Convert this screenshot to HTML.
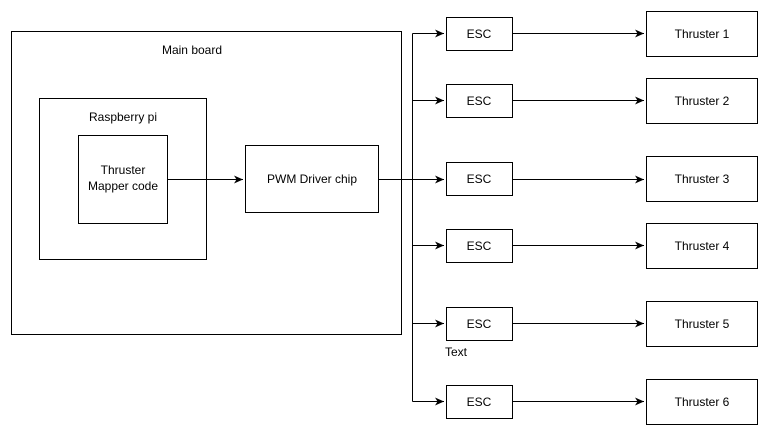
<!DOCTYPE html>
<html><head><style>body{margin:0;background:#fff}</style></head><body>
<svg width="769" height="436" xmlns="http://www.w3.org/2000/svg" font-family="Liberation Sans, sans-serif" font-size="12">
<defs><marker id="a" markerWidth="10" markerHeight="8" refX="9" refY="4" orient="auto" markerUnits="userSpaceOnUse"><path d="M0,0 L9,4 L0,8 L2.5,4 Z" fill="#000"/></marker></defs>
<g fill="#fff" stroke="#000" stroke-width="1">
<rect x="11.5" y="31.5" width="390" height="303"/>
<rect x="39.5" y="98.5" width="167" height="161"/>
<rect x="78.5" y="135.5" width="89" height="88"/>
<rect x="245.5" y="145.5" width="133" height="67"/>
<rect x="446.5" y="17.5" width="66" height="33"/>
<rect x="446.5" y="84.5" width="66" height="33"/>
<rect x="446.5" y="162.5" width="66" height="33"/>
<rect x="446.5" y="229.5" width="66" height="33"/>
<rect x="446.5" y="307.5" width="66" height="33"/>
<rect x="446.5" y="385.5" width="66" height="33"/>
<rect x="646.5" y="11.5" width="111" height="45"/>
<rect x="646.5" y="78.5" width="111" height="45"/>
<rect x="646.5" y="156.5" width="111" height="45"/>
<rect x="646.5" y="223.5" width="111" height="45"/>
<rect x="646.5" y="301.5" width="111" height="45"/>
<rect x="646.5" y="379.5" width="111" height="45"/>
</g>
<g stroke="#000" fill="none">
<path d="M167.5 179.5 H243" marker-end="url(#a)"/>
<path d="M378.5 179.5 H444" marker-end="url(#a)"/>
<path d="M412.5 401.5 V33.5"/>
<path d="M412.5 33.5 H444" marker-end="url(#a)"/>
<path d="M412.5 100.5 H444" marker-end="url(#a)"/>
<path d="M412.5 245.5 H444" marker-end="url(#a)"/>
<path d="M412.5 323.5 H444" marker-end="url(#a)"/>
<path d="M412.5 401.5 H444" marker-end="url(#a)"/>
<path d="M512.5 33.5 H644" marker-end="url(#a)"/>
<path d="M512.5 100.5 H644" marker-end="url(#a)"/>
<path d="M512.5 179.5 H644" marker-end="url(#a)"/>
<path d="M512.5 245.5 H644" marker-end="url(#a)"/>
<path d="M512.5 323.5 H644" marker-end="url(#a)"/>
<path d="M512.5 401.5 H644" marker-end="url(#a)"/>
</g>
<g text-anchor="middle" fill="#000">
<text x="192" y="54">Main board</text>
<text x="123" y="121">Raspberry pi</text>
<text x="123" y="174">Thruster</text>
<text x="123" y="190">Mapper code</text>
<text x="312" y="183">PWM Driver chip</text>
<text x="479" y="38">ESC</text>
<text x="479" y="105">ESC</text>
<text x="479" y="183">ESC</text>
<text x="479" y="250">ESC</text>
<text x="479" y="328">ESC</text>
<text x="479" y="406">ESC</text>
<text x="702" y="38">Thruster 1</text>
<text x="702" y="105">Thruster 2</text>
<text x="702" y="183">Thruster 3</text>
<text x="702" y="250">Thruster 4</text>
<text x="702" y="328">Thruster 5</text>
<text x="702" y="406">Thruster 6</text>
<text x="456" y="356">Text</text>
</g>
</svg>
</body></html>
